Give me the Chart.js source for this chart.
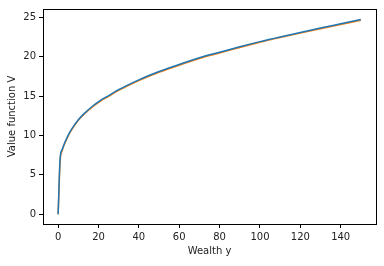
<!DOCTYPE html>
<html>
<head>
<meta charset="utf-8">
<script src="https://cdn.jsdelivr.net/npm/chart.js@4.4.0/dist/chart.umd.min.js"></script>
<style>
    html, body { margin: 0; padding: 0; background: #fff; }
    #wrap { width: 384px; height: 266px; position: relative; }
</style>
</head>
<body>
<div id="wrap"><canvas id="value-chart"></canvas></div>
<script>
    // wealth grid and the two value function curves
    var wealth = [0, 1, 2, 3, 4, 6, 8, 10, 13, 17, 21, 25, 30, 35, 40, 45, 50, 60, 70, 80, 90, 100, 110, 120, 130, 140, 150];
    var valueBlue = [0, 7.2, 8.2, 8.9, 9.5, 10.5, 11.3, 12.0, 12.8, 13.7, 14.45, 15.05, 15.8, 16.45, 17.05, 17.6, 18.1, 19.0, 19.85, 20.55, 21.25, 21.9, 22.5, 23.07, 23.62, 24.16, 24.7];
    var valueOrange = [0, 6.7, 8.05, 8.8, 9.4, 10.41, 11.21, 11.91, 12.71, 13.61, 14.36, 14.96, 15.71, 16.36, 16.96, 17.51, 18.01, 18.91, 19.76, 20.46, 21.16, 21.81, 22.41, 22.98, 23.53, 24.07, 24.6];
    var xTicks = [0, 20, 40, 60, 80, 100, 120, 140];
    var yTicks = [0, 5, 10, 15, 20, 25];

    function toPoints(xs, ys) {
        var pts = [];
        for (var i = 0; i < xs.length; i++) {
            pts.push({x: xs[i], y: ys[i]});
        }
        return pts;
    }

    // box around the plot area, like matplotlib spines
    var frame = {
        id: 'frame',
        afterDraw: function (chart) {
            var a = chart.chartArea, ctx = chart.ctx;
            ctx.save();
            ctx.strokeStyle = '#000';
            ctx.lineWidth = 1;
            ctx.strokeRect(Math.round(a.left) + 0.5, Math.round(a.top) + 0.5,
                Math.round(a.right - a.left), Math.round(a.bottom - a.top));
            ctx.restore();
        }
    };

    var font = {family: 'DejaVu Sans', size: 10};

    var ctx = document.getElementById('value-chart').getContext('2d');
    var myChart = new Chart(ctx, {
        type: 'line',
        data: {
            datasets: [{
                label: 'V',
                data: toPoints(wealth, valueBlue),
                borderColor: '#1f77b4',
                borderWidth: 1.5,
                pointRadius: 0,
                cubicInterpolationMode: 'monotone'
            }, {
                label: 'V approx',
                data: toPoints(wealth, valueOrange),
                borderColor: '#ff7f0e',
                borderWidth: 1.5,
                pointRadius: 0,
                cubicInterpolationMode: 'monotone'
            }]
        },
        options: {
            responsive: true,
            maintainAspectRatio: false,
            animation: false,
            layout: {padding: {top: 6, right: 8, left: 0, bottom: 0}},
            plugins: {legend: {display: false}, tooltip: {enabled: false}},
            scales: {
                x: {
                    type: 'linear',
                    min: -7.5,
                    max: 157.5,
                    afterBuildTicks: function (scale) {
                        scale.ticks = xTicks.map(function (v) { return {value: v}; });
                    },
                    afterFit: function (scale) { scale.height = 42; },
                    grid: {drawOnChartArea: false, drawTicks: true, tickLength: 4, color: '#000'},
                    border: {display: true, color: '#000'},
                    ticks: {font: font, color: '#222', padding: 3, maxRotation: 0},
                    title: {display: true, text: 'Wealth y', font: font, color: '#222', padding: {top: 2, bottom: 9}}
                },
                y: {
                    type: 'linear',
                    min: -1.24,
                    max: 26.04,
                    afterBuildTicks: function (scale) {
                        scale.ticks = yTicks.map(function (v) { return {value: v}; });
                    },
                    afterFit: function (scale) { scale.width = 43; },
                    grid: {drawOnChartArea: false, drawTicks: true, tickLength: 4, color: '#000'},
                    border: {display: true, color: '#000'},
                    ticks: {font: font, color: '#222', padding: 3},
                    title: {display: true, text: 'Value function V', font: font, color: '#222', padding: {top: 6.5, bottom: 4}}
                }
            }
        },
        plugins: [frame]
    });
</script>
</body>
</html>
